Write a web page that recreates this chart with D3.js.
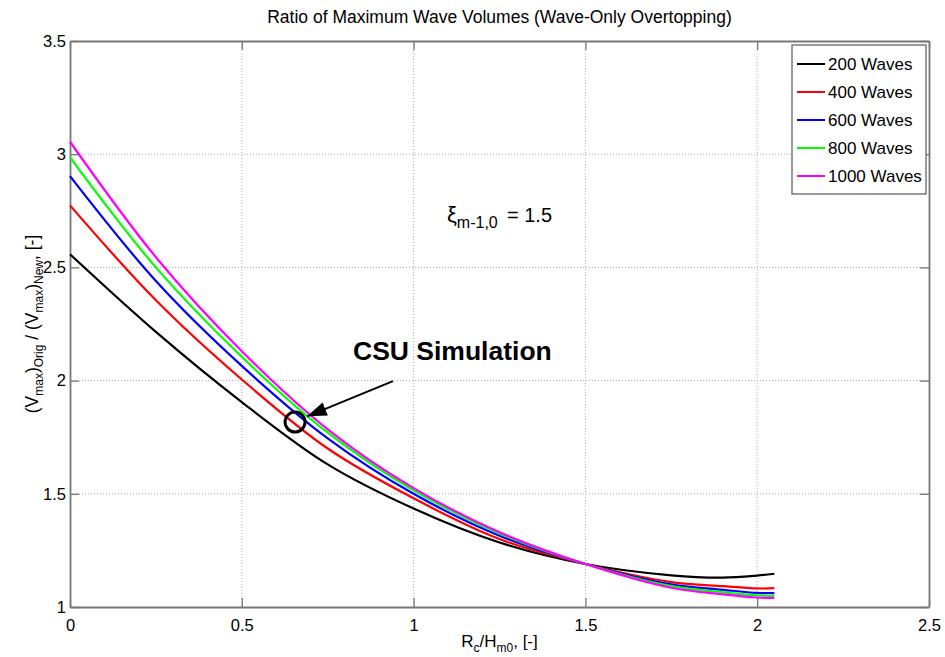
<!DOCTYPE html>
<html><head><meta charset="utf-8">
<script src="https://cdn.jsdelivr.net/npm/d3@7"></script>
<style>
body{margin:0;background:#fff}
svg{display:block}
text{font-family:"Liberation Sans",Arial,Helvetica,sans-serif;fill:#000}
</style>
</head><body>
<svg id="chart" width="945" height="657"></svg>
<script>
// ---- data ----
const xValues   = [0, 0.25, 0.5, 0.75, 1.0, 1.25, 1.5, 1.75, 1.9, 2.0, 2.05];
const waves200  = [2.558, 2.215, 1.905, 1.630, 1.435, 1.285, 1.190, 1.140, 1.130, 1.139, 1.147];
const waves400  = [2.774, 2.355, 2.005, 1.700, 1.480, 1.300, 1.190, 1.110, 1.092, 1.082, 1.083];
const waves600  = [2.903, 2.440, 2.065, 1.745, 1.500, 1.315, 1.190, 1.100, 1.076, 1.062, 1.061];
const waves800  = [2.986, 2.500, 2.105, 1.770, 1.515, 1.325, 1.190, 1.092, 1.065, 1.052, 1.049];
const waves1000 = [3.055, 2.545, 2.130, 1.785, 1.525, 1.330, 1.190, 1.085, 1.056, 1.042, 1.040];
const seriesNames = ["200 Waves", "400 Waves", "600 Waves", "800 Waves", "1000 Waves"];
const xTicks = [0, 0.5, 1, 1.5, 2, 2.5];
const yTicks = [1, 1.5, 2, 2.5, 3, 3.5];
const titleText = "Ratio of Maximum Wave Volumes (Wave-Only Overtopping)";
const csuPoint = [0.655, 1.817];
const arrowFrom = [0.94, 1.998];
const arrowTo = [0.69, 1.842];
const xiValue = "1.5";

(function draw(){
// ---- layout / style ----
const colors = ["#000000", "#ff0000", "#0000ff", "#00ff00", "#ff00ff"];
const pL = 70, pR = 929, pT = 41, pB = 607;
const svg = d3.select("#chart");
const x = d3.scaleLinear().domain([0, 2.5]).range([pL, pR]);
const y = d3.scaleLinear().domain([1, 3.5]).range([pB, pT]);
const axisColor = "#777777";

svg.append("rect").attr("x",0).attr("y",0).attr("width",945).attr("height",657).attr("fill","#fff");

// grid
const grid = svg.append("g");
grid.selectAll(".gx").data(xTicks.slice(1, -1)).join("line")
  .attr("x1", d => x(d)).attr("x2", d => x(d)).attr("y1", pT).attr("y2", pB)
  .attr("stroke", "#b0b0b0").attr("stroke-width", 1).attr("stroke-dasharray", "1,2");
grid.selectAll(".gy").data(yTicks.slice(1, -1)).join("line")
  .attr("y1", d => y(d)).attr("y2", d => y(d)).attr("x1", pL).attr("x2", pR)
  .attr("stroke", "#b0b0b0").attr("stroke-width", 1).attr("stroke-dasharray", "1,2");

// axes with inward ticks
const fmt = d => String(d);
const xAxisB = d3.axisBottom(x).tickValues(xTicks).tickFormat(fmt).tickSizeInner(-9).tickSizeOuter(0).tickPadding(12);
const xAxisT = d3.axisTop(x).tickValues(xTicks).tickFormat("").tickSizeInner(-9).tickSizeOuter(0);
const yAxisL = d3.axisLeft(y).tickValues(yTicks).tickFormat(fmt).tickSizeInner(-9).tickSizeOuter(0).tickPadding(4);
const yAxisR = d3.axisRight(y).tickValues(yTicks).tickFormat("").tickSizeInner(-9).tickSizeOuter(0);

function styleAxis(g){
  g.select(".domain").attr("stroke", axisColor).attr("stroke-width", 1.8);
  g.selectAll(".tick line").attr("stroke", axisColor).attr("stroke-width", 1.3);
  g.selectAll(".tick text").attr("font-size", 16.5).attr("font-family", '"Liberation Sans",Arial,sans-serif').attr("fill","#000");
}
svg.append("g").attr("transform", `translate(0,${pB})`).call(xAxisB).call(styleAxis);
svg.append("g").attr("transform", `translate(0,${pT})`).call(xAxisT).call(styleAxis);
svg.append("g").attr("transform", `translate(${pL},0)`).call(yAxisL).call(styleAxis);
svg.append("g").attr("transform", `translate(${pR},0)`).call(yAxisR).call(styleAxis);

// curves
const allSeries = [waves200, waves400, waves600, waves800, waves1000];
const line = d3.line().x(d => x(d[0])).y(d => y(d[1])).curve(d3.curveCatmullRom.alpha(0.5));
allSeries.forEach((vals, i) => {
  svg.append("path")
    .datum(xValues.map((xv, j) => [xv, vals[j]]))
    .attr("d", line).attr("fill", "none")
    .attr("stroke", colors[i]).attr("stroke-width", 2.2);
});

// title
svg.append("text").attr("x", (pL + pR) / 2).attr("y", 23)
  .attr("text-anchor", "middle").attr("font-size", 17.5).text(titleText);

// x label
const xl = svg.append("text").attr("x", (pL + pR) / 2).attr("y", 647)
  .attr("text-anchor", "middle").attr("font-size", 17);
xl.append("tspan").text("R");
xl.append("tspan").attr("font-size", 12).attr("dy", 5).text("c");
xl.append("tspan").attr("dy", -5).text("/H");
xl.append("tspan").attr("font-size", 12).attr("dy", 5).text("m0");
xl.append("tspan").attr("dy", -5).text(", [-]");

// y label
const yl = svg.append("text")
  .attr("transform", `translate(38,${(pT + pB) / 2}) rotate(-90)`)
  .attr("text-anchor", "middle").attr("font-size", 17.5);
yl.append("tspan").text("(V");
yl.append("tspan").attr("font-size", 12).attr("dy", 5).text("max");
yl.append("tspan").attr("dy", -5).text(")");
yl.append("tspan").attr("font-size", 12).attr("dy", 5).text("Orig");
yl.append("tspan").attr("dy", -5).text(" / (V");
yl.append("tspan").attr("font-size", 12).attr("dy", 5).text("max");
yl.append("tspan").attr("dy", -5).text(")");
yl.append("tspan").attr("font-size", 12).attr("dy", 5).text("New");
yl.append("tspan").attr("dy", -5).text(", [-]");

// xi annotation
const xi = svg.append("text").attr("x", 447).attr("y", 222).attr("font-size", 20);
xi.append("tspan").attr("font-size", 22).text("ξ");
xi.append("tspan").attr("font-size", 16).attr("dy", 6).text("m-1,0");
svg.append("text").attr("x", 507).attr("y", 222).attr("font-size", 20).text("= " + xiValue);

// legend
const lg = svg.append("g");
lg.append("rect").attr("x", 792).attr("y", 45).attr("width", 134).attr("height", 149)
  .attr("fill", "#fff").attr("stroke", "#666666").attr("stroke-width", 1.3);
seriesNames.forEach((name, i) => {
  const yy = 64 + i * 28;
  lg.append("line").attr("x1", 797).attr("x2", 825).attr("y1", yy).attr("y2", yy)
    .attr("stroke", colors[i]).attr("stroke-width", 2);
  lg.append("text").attr("x", 828).attr("y", yy + 6).attr("font-size", 17).text(name);
});

// CSU annotation
svg.append("text").attr("x", 353).attr("y", 360).attr("font-size", 26.5).attr("font-weight", "bold").text("CSU Simulation");
svg.append("defs").append("marker").attr("id", "ah").attr("viewBox", "0 0 14 10")
  .attr("refX", 14).attr("refY", 5).attr("markerWidth", 20).attr("markerHeight", 14)
  .attr("markerUnits", "userSpaceOnUse").attr("orient", "auto")
  .append("path").attr("d", "M0,0 L14,5 L0,10 z").attr("fill", "#000");
svg.append("line")
  .attr("x1", x(arrowFrom[0])).attr("y1", y(arrowFrom[1]))
  .attr("x2", x(arrowTo[0])).attr("y2", y(arrowTo[1]))
  .attr("stroke", "#000").attr("stroke-width", 2).attr("marker-end", "url(#ah)");
svg.append("circle").attr("cx", x(csuPoint[0])).attr("cy", y(csuPoint[1])).attr("r", 10)
  .attr("fill", "none").attr("stroke", "#000").attr("stroke-width", 3);
})();
</script>
</body></html>
